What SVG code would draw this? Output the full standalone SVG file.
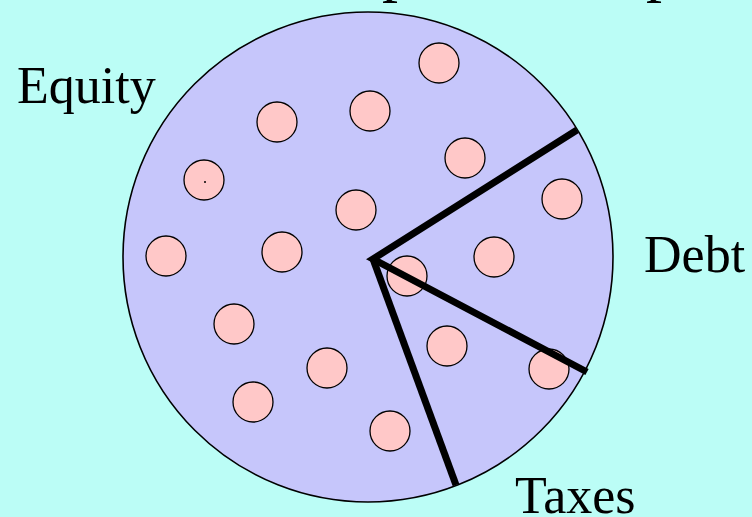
<svg xmlns="http://www.w3.org/2000/svg" width="752" height="517" viewBox="0 0 752 517">
  <style>
    .lbl { font-family: "Liberation Serif", "Times New Roman", serif; font-size: 52px; fill: #000; }
    .dot { fill: #ffc8c8; stroke: #000; stroke-width: 1.3; }
    .cut { stroke: #000; stroke-width: 7; stroke-linecap: butt; fill: none; }
  </style>
  <rect width="752" height="517" fill="#bbfdf6"/>
  <text class="lbl" x="382" y="-11" style="font-size:64px">p</text>
  <text class="lbl" x="646" y="-11" style="font-size:64px">p</text>
  <g id="pie">
    <circle cx="368" cy="257" r="245" fill="#c6c6fb" stroke="#000" stroke-width="1.6"/>
  </g>
  <g id="dots">
    <circle class="dot" cx="439" cy="63" r="20"/>
    <circle class="dot" cx="277" cy="122" r="20"/>
    <circle class="dot" cx="370" cy="111" r="20"/>
    <circle class="dot" cx="465" cy="158" r="20"/>
    <circle class="dot" cx="204" cy="180" r="20"/>
    <circle cx="205" cy="182" r="1" fill="#000"/>
    <circle class="dot" cx="562" cy="199" r="20"/>
    <circle class="dot" cx="356" cy="210" r="20"/>
    <circle class="dot" cx="166" cy="256" r="20"/>
    <circle class="dot" cx="282" cy="252" r="20"/>
    <circle class="dot" cx="494" cy="257" r="20"/>
    <circle class="dot" cx="407" cy="276" r="20"/>
    <circle class="dot" cx="234" cy="324" r="20"/>
    <circle class="dot" cx="447" cy="346" r="20"/>
    <circle class="dot" cx="549" cy="369" r="20"/>
    <circle class="dot" cx="327" cy="368" r="20"/>
    <circle class="dot" cx="253" cy="402" r="20"/>
    <circle class="dot" cx="390" cy="431" r="20"/>
  </g>
  <g id="connectors">
    <polyline class="cut" points="577,130 373,259 587,372"/>
    <line class="cut" x1="373" y1="259" x2="456" y2="485"/>
  </g>
  <g id="label-equity"><text class="lbl" x="17" y="103">Equity</text></g>
  <g id="label-debt"><text class="lbl" x="644" y="272">Debt</text></g>
  <g id="label-taxes"><text class="lbl" x="515" y="513">Taxes</text></g>
</svg>
